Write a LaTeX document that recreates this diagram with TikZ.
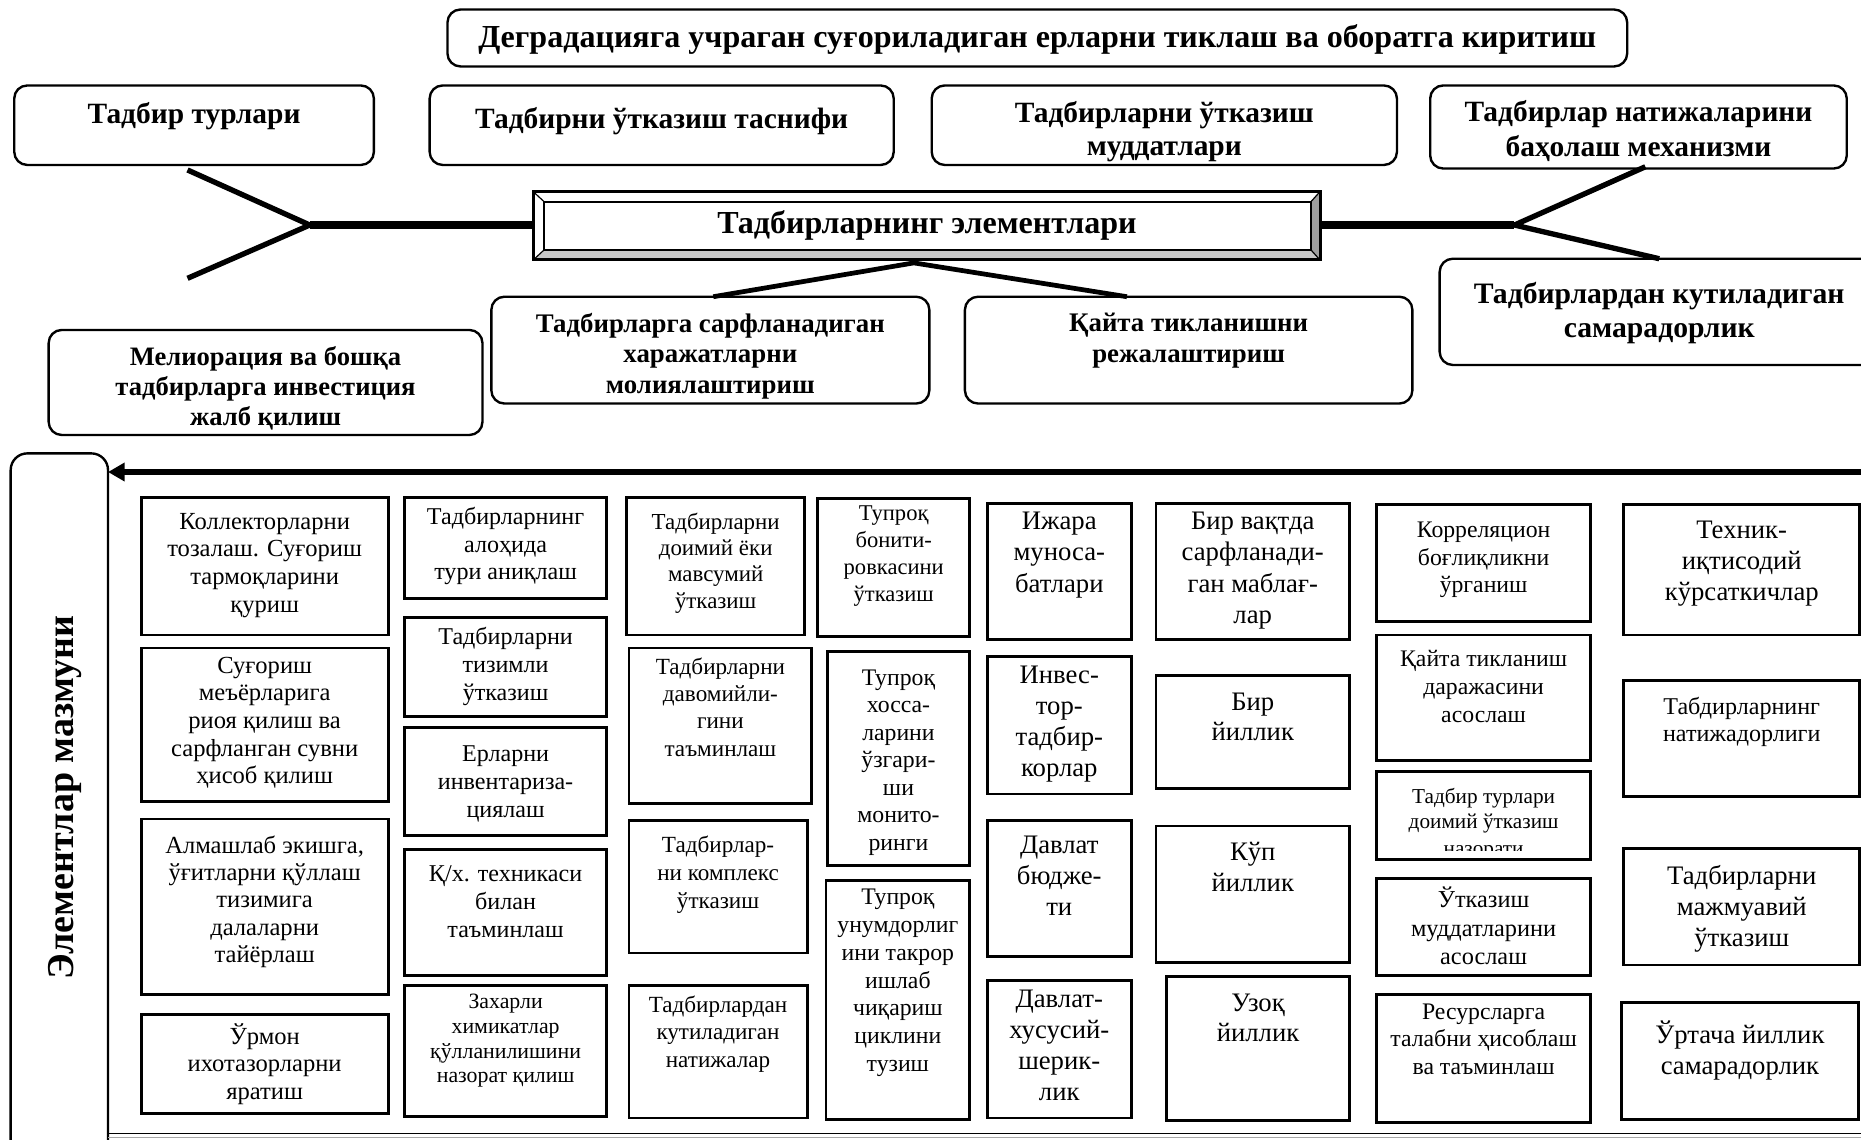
\documentclass[tikz,border=0pt]{standalone}
\usepackage{fontspec}
\setmainfont{Liberation Serif}
\usetikzlibrary{arrows.meta,calc}
\tikzset{
  topbox/.style={draw, line width=2pt, rounded corners=11pt, inner sep=0pt, outer sep=0pt},
  cellbox/.style={draw, line width=2.4pt, inner sep=0pt, outer sep=0pt},
  celltext/.style={anchor=north, align=center, inner sep=0pt},
  toptext/.style={anchor=north, align=center, inner sep=0pt},
  forkmain/.style={line width=6pt},
  forkbranch/.style={line width=4.5pt, line join=miter},
}
% name, x1, y1, x2, y2, first-line y, size, skip, text
\newcommand\mycell[9]{%
  \node[cellbox, anchor=north west, minimum width={#4-#2}, minimum height={#5-#3}] (#1) at (#2,#3) {};
  \node[celltext, font=\fontsize{#7}{#8}\selectfont] (#1-t) at ({(#2+#4)/2},{#6-0.4*#7}) {#9};
}
\newcommand\mytbox[9]{%
  \node[topbox, anchor=north west, minimum width={#4-#2}, minimum height={#5-#3}] (#1) at (#2,#3) {};
  \node[toptext, font=\bfseries\fontsize{#7}{#8}\selectfont] (#1-t) at ({(#2+#4)/2},{#6-0.4*#7}) {#9};
}
\begin{document}
\begin{tikzpicture}[x=1pt,y=-1pt]
\useasboundingbox (0,0) rectangle (1568,960);

% ---------- top part ----------
\mytbox{t0}{377}{8}{1371}{56}{31}{27}{30}{Деградацияга учраган суғориладиган ерларни тиклаш ва оборатга киритиш}
\mytbox{t1}{12}{72}{315}{139}{96}{24.8}{28}{Тадбир турлари}
\mytbox{t2}{362}{72}{753}{139}{100}{24.8}{28}{Тадбирни ўтказиш таснифи}
\mytbox{t3}{785}{72}{1177}{139}{95}{24.8}{28}{Тадбирларни ўтказиш\\муддатлари}
\mytbox{t4}{1205}{72}{1556}{142}{94}{24.8}{29.5}{Тадбирлар натижаларини\\баҳолаш механизми}
\mytbox{t5}{414}{250}{783}{340}{272.4}{22.6}{26}{Тадбирларга сарфланадиган\\харажатларни\\молиялаштириш}
\mytbox{t6}{813}{250}{1190}{340}{272.4}{22.6}{26}{Қайта тикланишни\\режалаштириш}
\mytbox{t7}{1213}{218}{1583}{307.5}{248}{25}{28}{Тадбирлардан кутиладиган\\самарадорлик}
\mytbox{t8}{41}{278}{406.5}{366.5}{300.5}{22.4}{25.3}{Мелиорация ва бошқа\\тадбирларга инвестиция\\жалб қилиш}

% central bevelled box
\node[inner sep=0pt, outer sep=0pt, minimum width=663, minimum height=57.5] (C) at (780.7,190.25) {};
\fill[white] (449.3,161.5) -- (1112.1,161.5) -- (1104.5,170) -- (458.5,170) -- cycle;
\fill[white] (449.3,161.5) -- (458.5,170) -- (458.5,210.5) -- (449.3,219) -- cycle;
\fill[gray!45] (449.3,219) -- (458.5,210.5) -- (1104.5,210.5) -- (1112.1,219) -- cycle;
\fill[gray!75] (1112.1,161.5) -- (1104.5,170) -- (1104.5,210.5) -- (1112.1,219) -- cycle;
\draw[line width=1pt] (449.3,161.5) -- (458.5,170) (1112.1,161.5) -- (1104.5,170)
      (449.3,219) -- (458.5,210.5) (1112.1,219) -- (1104.5,210.5);
\draw[line width=2pt] (458.5,170) rectangle (1104.5,210.5);
\draw[line width=2.6pt] (C.north west) rectangle (C.south east);
\node[font=\bfseries\fontsize{27}{30}\selectfont, inner sep=0pt] (C-t) at (781,190) {Тадбирларнинг элементлари};

% left fork
\coordinate (lf) at (261,189.6);
\coordinate (lfu) at (158,143.2);
\coordinate (lfd) at (158,234.5);
\draw[forkmain] (C.west |- lf) -- (lf);
\draw[forkbranch] (lfu) -- (lf) -- (lfd);
% right fork
\coordinate (rf) at (1276,189.6);
\coordinate (rfu) at (1386.3,140.5);
\coordinate (rfd) at (1398,218);
\draw[forkmain] (C.east |- rf) -- (rf);
\draw[forkbranch] (rfu) -- (rf) -- (rfd);
% V under central box
\coordinate (va) at (770,221.5);
\draw[line width=4pt, line join=miter] (601,250) -- (va) -- (949.5,250);

% ---------- bottom part ----------
\node[draw, line width=2pt, rounded corners=14pt, inner sep=0pt, outer sep=0pt, anchor=north west,
      minimum width=82, minimum height=595] (E) at (9,382) {};
\node[rotate=90, font=\bfseries\fontsize{32}{36}\selectfont, inner sep=0pt] (E-t) at (55,672) {Элементлар мазмуни};
\coordinate (arS) at (1572,397.7);
\draw[line width=5pt, -{Triangle[length=14pt, width=15pt]}] (arS) -- (arS -| E.east);
\coordinate (bl) at (1572,955);
\coordinate (bl2) at (1572,958.5);
\draw[line width=1.6pt] (bl) -- (bl -| E.east);
\draw[line width=1.2pt, gray!70] (bl2) -- (bl2 -| E.east);

% column 1
\mycell{a1}{119}{419}{327}{535}{440.3}{20.7}{23.4}{Коллекторларни\\тозалаш. Суғориш\\тармоқларини\\қуриш}
\mycell{a2}{119}{546}{327}{675}{561.8}{20.7}{23.2}{Суғориш\\меъёрларига\\риоя қилиш ва\\сарфланган сувни\\ҳисоб қилиш}
\mycell{a3}{119}{690}{327}{838}{712}{20.7}{23.1}{Алмашлаб экишга,\\ўғитларни қўллаш\\тизимига\\далаларни\\тайёрлаш}
\mycell{a4}{119}{855}{327}{938}{870.3}{20.7}{23.3}{Ўрмон\\ихотазорларни\\яратиш}
% column 2
\mycell{b1}{341}{419}{511}{504}{435.4}{20.3}{23.2}{Тадбирларнинг\\алоҳида\\тури аниқлаш}
\mycell{b2}{341}{520}{511}{604}{536.2}{20.3}{23.5}{Тадбирларни\\тизимли\\ўтказиш}
\mycell{b3}{341}{613}{511}{704}{636.6}{20.3}{23.2}{Ерларни\\инвентариза-\\циялаш}
\mycell{b4}{341}{716}{511}{822}{737.5}{20.3}{23.4}{Қ/х. техникаси\\билан\\таъминлаш}
\mycell{b5}{341}{830}{511}{941}{844.6}{18.4}{20.9}{Захарли\\химикатлар\\қўлланилишини\\назорат қилиш}
% column 3
\mycell{c1}{528}{419}{678}{535}{439.5}{19.3}{22.2}{Тадбирларни\\доимий ёки\\мавсумий\\ўтказиш}
\mycell{c2}{530}{546}{684}{677}{561.8}{19.5}{23}{Тадбирларни\\давомийли-\\гини\\таъминлаш}
\mycell{c3}{530}{691}{680}{803}{712.3}{19.5}{23.3}{Тадбирлар-\\ни комплекс\\ўтказиш}
\mycell{c4}{530}{830}{680}{942}{846.5}{19.5}{23.2}{Тадбирлардан\\кутиладиган\\натижалар}
% column 4
\mycell{d1}{689}{420}{817}{536}{433.9}{19}{22.6}{Тупроқ\\бонити-\\ровкасини\\ўтказиш}
\mycell{d2}{697}{549}{817}{729}{571.9}{20}{23.2}{Тупроқ\\хосса-\\ларини\\ўзгари-\\ши\\монито-\\ринги}
\mycell{d3}{696}{742}{817}{943}{757}{20}{23.4}{Тупроқ\\унумдорлиг\\ини такрор\\ишлаб\\чиқариш\\циклини\\тузиш}
% column 5
\mycell{e1}{832}{424}{953}{539}{440.3}{22.5}{26.3}{Ижара\\муноса-\\батлари}
\mycell{e2}{832}{553}{953}{669}{570}{22.5}{26.1}{Инвес-\\тор-\\тадбир-\\корлар}
\mycell{e3}{832}{691}{953}{806}{713.6}{22.5}{26.1}{Давлат\\бюдже-\\ти}
\mycell{e4}{832}{826}{953}{942}{842.8}{22.5}{26.3}{Давлат-\\хусусий-\\шерик-\\лик}
% column 6
\mycell{f1}{974}{424}{1137}{539}{440.3}{22.5}{26.3}{Бир вақтда\\сарфланади-\\ган маблағ-\\лар}
\mycell{f2}{974}{569}{1137}{664}{592.6}{22.5}{25.6}{Бир\\йиллик}
\mycell{f3}{974}{696}{1137}{811}{718.7}{22.5}{25.5}{Кўп\\йиллик}
\mycell{f4}{983}{823}{1137}{944}{846.5}{22.5}{25.5}{Узоқ\\йиллик}
% column 7
\mycell{g1}{1160}{425}{1340}{524}{447.8}{20}{23}{Корреляцион\\боғлиқликни\\ўрганиш}
\mycell{g2}{1160}{535}{1340}{641}{555.7}{20}{23.7}{Қайта тикланиш\\даражасини\\асослаш}
\node[cellbox, anchor=north west, minimum width=180, minimum height=74] (g3) at (1160,650) {};
\begin{scope}
  \clip (1160,650) rectangle (1340,716.5);
  \node[celltext, font=\fontsize{17.9}{20.3}\selectfont] (g3-t) at (1250,{671.5-0.4*17.9}) {Тадбир турлари\\доимий ўтказиш\\[2.5pt]назорати};
\end{scope}
\mycell{g4}{1160}{740}{1340}{822}{755.5}{20.5}{24}{Ўтказиш\\муддатларини\\асослаш}
\mycell{g5}{1160}{838}{1340}{946}{853.3}{20}{23.3}{Ресурсларга\\талабни ҳисоблаш\\ва таъминлаш}
% column 8
\mycell{h1}{1368}{425}{1567}{535}{447.8}{22.5}{26.3}{Техник-\\иқтисодий\\кўрсаткичлар}
\mycell{h2}{1368}{573}{1567}{671}{595.3}{20.3}{22.9}{Табдирларнинг\\натижадорлиги}
\mycell{h3}{1368}{715}{1567}{813}{738.2}{22.5}{26}{Тадбирларни\\мажмуавий\\ўтказиш}
\mycell{h4}{1366}{845}{1566}{943}{869.1}{22.5}{25.6}{Ўртача йиллик\\самарадорлик}
\end{tikzpicture}
\end{document}
